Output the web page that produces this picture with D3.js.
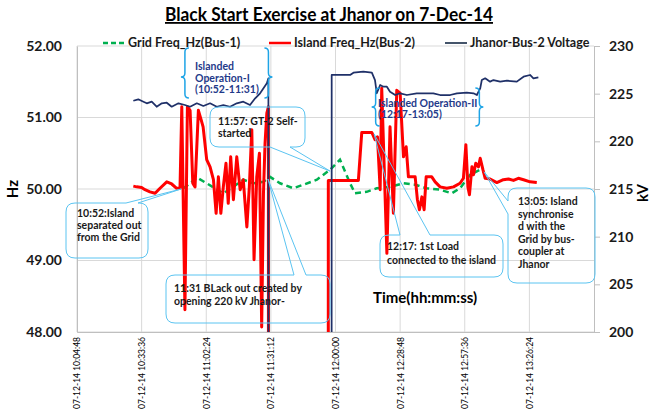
<!DOCTYPE html>
<html>
<head>
<meta charset="utf-8">
<script src="https://cdn.jsdelivr.net/npm/d3@7"></script>
<style>
  body { margin: 0; background: #fff; }
  text { font-family: Lato, "Open Sans", sans-serif; }
</style>
</head>
<body>
<div id="chart"></div>
<script>
// chart values
const chartTitle = "Black Start Exercise at Jhanor on 7-Dec-14";
const seriesNames = ["Grid Freq_Hz(Bus-1)", "Island Freq_Hz(Bus-2)", "Jhanor-Bus-2 Voltage"];
const datePrefix = "07-12-14 ";
const timeTicks = ["10:04:48", "10:33:36", "11:02:24", "11:31:12", "12:00:00", "12:28:48", "12:57:36", "13:26:24"];
const timeRange = ["10:04:48", "13:55:12"];
const hzTicks = [48, 49, 50, 51, 52];
const kvTicks = [200, 205, 210, 215, 220, 225, 230];

const islandFreq = [
  ["10:29:54",50.04],["10:31:24",50.03],["10:33:36",50.02],["10:35:06",49.99],["10:37:18",49.96],["10:39:36",49.94],
  ["10:41:48",50.01],["10:44:48",50.10],["10:47:00",50.07],["10:49:12",50.01],["10:50:42",50.01],
  ["10:51:30",51.15],["10:52:54",48.31],["10:54:00",51.15],["10:55:12",51.10],["10:56:24",50.08],["10:57:24",50.03],
  ["10:58:54",51.10],["11:00:06",50.97],["11:01:00",50.87],["11:02:36",50.41],["11:04:06",50.31],["11:05:36",50.13],
  ["11:06:48",49.66],["11:07:48",50.17],["11:08:54",49.66],["11:10:00",50.03],["11:11:12",50.36],["11:12:12",49.80],
  ["11:13:18",50.45],["11:14:30",49.85],["11:16:00",50.45],["11:17:30",49.99],["11:18:54",50.13],["11:20:30",49.47],
  ["11:21:36",50.03],["11:22:42",50.83],["11:23:42",49.01],["11:24:54",50.17],["11:26:06",50.50],["11:27:06",48.07],
  ["11:27:54",49.94],["11:28:36",50.64],["11:29:24",51.06],["11:30:06",51.15],["11:30:24",0],
  ["11:56:30",0],["11:56:48",50.12],["12:10:12",50.12],["12:11:42",50.79],["12:16:12",50.79],["12:17:36",50.69],
  ["12:18:42",50.73],["12:19:54",49.99],["12:20:36",51.41],["12:22:54",49.10],["12:24:18",50.87],["12:25:48",49.66],
  ["12:27:18",51.38],["12:28:48",51.34],["12:30:18",50.45],["12:31:30",50.59],["12:32:30",50.17],["12:35:30",50.17],
  ["12:36:30",49.85],["12:37:24",49.71],["12:38:30",49.89],["12:39:30",49.71],["12:40:24",50.17],["12:42:54",50.17],
  ["12:44:24",50.10],["12:46:36",50.03],["12:49:36",50.01],["12:52:36",50.03],["12:55:30",50.08],["12:57:00",50.15],
  ["12:58:06",50.62],["12:59:00",50.03],["12:59:42",49.92],["13:00:48",50.31],["13:01:30",50.20],["13:02:30",50.36],
  ["13:03:42",50.31],["13:04:30",50.43],["13:05:42",50.27],["13:06:42",50.15],["13:08:54",50.14],["13:11:54",50.09],
  ["13:14:48",50.13],["13:17:06",50.14],["13:19:18",50.12],["13:21:30",50.15],["13:23:48",50.13],["13:26:42",50.10],
  ["13:29:42",50.09]
];

const gridFreq = [
  ["10:52:12",50.01],["10:55:12",50.08],["10:58:12",50.16],["11:02:36",50.08],["11:06:18",50.01],["11:10:00",49.94],
  ["11:14:30",50.03],["11:18:54",50.13],["11:23:24",50.08],["11:27:54",50.10],["11:30:48",50.17],["11:35:18",50.08],
  ["11:41:12",50.01],["11:45:42",50.06],["11:51:42",50.13],["11:57:36",50.27],["12:02:00",50.41],["12:06:30",50.08],
  ["12:08:42",49.94],["12:13:54",49.96],["12:18:24",50.01],["12:24:18",50.03],["12:30:18",50.08],["12:35:30",50.06],
  ["12:40:42",50.01],["12:46:36",49.99],["12:51:48",49.94],["12:55:30",50.01],["13:00:00",50.20],["13:04:30",50.27],
  ["13:05:54",50.24]
];

const busVoltage = [
  ["10:29:54",224.26],["10:32:06",224.41],["10:34:24",224.16],["10:35:54",223.99],["10:38:06",224.16],["10:40:18",223.63],
  ["10:42:36",223.99],["10:44:48",224.05],["10:47:00",223.63],["10:50:00",223.99],["10:52:54",223.81],["10:55:12",223.63],
  ["10:58:12",223.99],["11:01:06",223.71],["11:04:06",223.99],["11:07:06",223.63],["11:10:00",223.81],["11:13:00",223.63],
  ["11:16:00",223.99],["11:18:54",224.16],["11:21:54",223.81],["11:24:12",224.51],["11:26:24",225.04],["11:27:54",225.56],
  ["11:29:24",226.09],["11:30:06",226.61],["11:30:18",0],
  ["11:58:06",0],["11:58:18",226.96],["12:06:30",226.96],["12:08:00",227.20],["12:12:24",227.30],["12:16:12",227.20],
  ["12:17:36",226.43],["12:18:24",225.04],["12:19:54",225.91],["12:21:18",225.73],["12:22:54",225.73],["12:24:18",225.21],
  ["12:26:36",224.86],["12:28:48",225.04],["12:31:48",224.86],["12:36:12",225.04],["12:40:42",225.04],["12:43:36",225.04],
  ["12:46:36",224.86],["12:51:06",224.86],["12:54:06",225.04],["12:58:30",225.10],["13:01:30",225.04],["13:03:00",224.86],
  ["13:04:30",225.56],["13:05:12",226.43],["13:06:42",226.61],["13:08:54",226.26],["13:10:24",226.43],["13:13:24",226.26],
  ["13:16:24",226.36],["13:20:48",226.26],["13:23:48",226.78],["13:26:42",226.96],["13:28:12",226.61],["13:30:24",226.71]
];

// annotations: text and the point each callout aims at
const calloutLines = [
  ["10:52:Island", "separated out", "from the Grid"],
  ["11:57: GT-2 Self-", "started"],
  ["11:31  BLack out created by", "opening 220 kV Jhanor-"],
  ["12:17: 1st Load", "connected to the island"],
  ["13:05: Island", "synchronise", "d with the", "Grid by bus-", "coupler at", "Jhanor"]
];
const calloutTips = [["10:51:12", 50.00], ["11:57:36", 50.25], ["11:29:54", 50.14], ["12:17:12", 50.77], ["13:06:12", 50.24]];
const braceLabels = [
  { lines: ["Islanded", "Operation-I", "(10:52-11:31)"], from: "10:52:00", to: "11:31:00" },
  { lines: ["Islanded Operation-II", "(12:17-13:05)"], from: "12:17:00", to: "13:05:00" }
];

// layout
const width = 661, height = 410;
const plotLeft = 77, plotRight = 594, plotTop = 46, plotBottom = 332;

const calloutBoxes = [
  { x: 66, y: 203, w: 82, h: 55, side: "top", base: [126, 138], tx: 77, ty: 217, lh: 12.2 },
  { x: 210, y: 107, w: 95, h: 40, side: "bottom", base: [270, 290], tx: 218, ty: 125, lh: 12 },
  { x: 166, y: 275, w: 164, h: 48, side: "top", base: [294, 306], tx: 174, ty: 292, lh: 12.5 },
  { x: 380, y: 235, w: 123, h: 42, side: "top", base: [400, 430], tx: 387, ty: 250, lh: 13.5 },
  { x: 508, y: 188, w: 87, h: 95, side: "left", base: [201, 214], tx: 518, ty: 205, lh: 12.6 }
];
const braceBoxes = [
  { y1: 48, y2: 98, ym: 77, tx: 195, ty: 70, lh: 11.7 },
  { y1: 88, y2: 126, ym: 107, tx: 378, ty: 107, lh: 10.7 }
];

const parseT = s => { const p = s.split(':').map(Number); return p[0] * 60 + p[1] + p[2] / 60; };

const svg = d3.select('#chart').append('svg')
  .attr('width', width).attr('height', height);

const x = d3.scaleLinear().domain(timeRange.map(parseT)).range([plotLeft, plotRight]);
const yHz = d3.scaleLinear().domain([48, 52]).range([plotBottom, plotTop]);
const yKv = d3.scaleLinear().domain([200, 230]).range([plotBottom, plotTop]);

// gridlines
svg.append('g').selectAll('line').data(hzTicks).enter().append('line')
  .attr('x1', plotLeft).attr('x2', plotRight)
  .attr('y1', d => yHz(d)).attr('y2', d => yHz(d))
  .attr('stroke', '#d9d9d9').attr('stroke-width', 1);
svg.append('g').selectAll('line').data(timeTicks).enter().append('line')
  .attr('x1', d => x(parseT(d))).attr('x2', d => x(parseT(d)))
  .attr('y1', plotTop).attr('y2', plotBottom)
  .attr('stroke', '#d9d9d9').attr('stroke-width', 1);

// axes
let axL = svg.append('g').attr('transform', `translate(${plotLeft},0)`)
  .call(d3.axisLeft(yHz).tickValues(hzTicks).tickSize(0).tickPadding(15).tickFormat(d3.format('.2f')));
axL.select('.domain').attr('stroke', '#bfbfbf');
axL.selectAll('text').attr('font-size', 14).attr('font-weight', 'bold').attr('fill', '#1a1a1a')
  .style('font-family', 'Lato');

let axR = svg.append('g').attr('transform', `translate(${plotRight},0)`)
  .call(d3.axisRight(yKv).tickValues(kvTicks).tickSize(6).tickPadding(9).tickSizeOuter(0));
axR.select('.domain').attr('stroke', '#bfbfbf');
axR.selectAll('line').attr('stroke', '#bfbfbf');
axR.selectAll('text').attr('font-size', 14).attr('font-weight', 'bold').attr('fill', '#1a1a1a')
  .style('font-family', 'Lato');

let axB = svg.append('g').attr('transform', `translate(0,${plotBottom})`)
  .call(d3.axisBottom(x).tickValues(timeTicks.map(parseT)).tickSize(0).tickSizeOuter(0)
    .tickFormat((d, i) => datePrefix + timeTicks[i]));
axB.select('.domain').attr('stroke', '#bfbfbf');
axB.selectAll('text')
  .attr('transform', 'rotate(-90)')
  .attr('x', -5).attr('y', 0).attr('dy', '0.35em')
  .style('text-anchor', 'end')
  .attr('font-size', 8.5).attr('fill', '#000').style('font-family', 'Lato');

// axis titles
svg.append('text').attr('transform', 'translate(18,189) rotate(-90)')
  .attr('text-anchor', 'middle').attr('font-size', 15).attr('font-weight', 'bold').text('Hz');
svg.append('text').attr('transform', 'translate(648,193) rotate(-90)')
  .attr('text-anchor', 'middle').attr('font-size', 15).attr('font-weight', 'bold').text('kV');
svg.append('text').attr('x', 373).attr('y', 303)
  .attr('font-size', 15).attr('font-weight', 'bold').text('Time(hh:mm:ss)');

// lines
svg.append('clipPath').attr('id', 'plot').append('rect')
  .attr('x', plotLeft).attr('y', plotTop).attr('width', plotRight - plotLeft).attr('height', plotBottom - plotTop);

const lineHz = d3.line().x(d => x(parseT(d[0]))).y(d => yHz(d[1]));
const lineKv = d3.line().x(d => x(parseT(d[0]))).y(d => yKv(d[1]));
const plot = svg.append('g').attr('clip-path', 'url(#plot)');

plot.append('path').datum(gridFreq).attr('d', lineHz)
  .attr('fill', 'none').attr('stroke', '#00b050').attr('stroke-width', 2.5)
  .attr('stroke-dasharray', '6,4');
plot.append('path').datum(islandFreq).attr('d', lineHz)
  .attr('fill', 'none').attr('stroke', '#ff0000').attr('stroke-width', 3)
  .attr('stroke-linejoin', 'round');
plot.append('path').datum(busVoltage).attr('d', lineKv)
  .attr('fill', 'none').attr('stroke', '#1f3068').attr('stroke-width', 1.75)
  .attr('stroke-linejoin', 'round');

// title
svg.append('text').attr('x', 329).attr('y', 21)
  .attr('text-anchor', 'middle').attr('font-size', 18).attr('font-weight', 'bold')
  .attr('textLength', 328).attr('lengthAdjust', 'spacingAndGlyphs')
  .style('text-decoration', 'underline').text(chartTitle);

// legend
const legendColors = ['#00b050', '#ff0000', '#44546a'];
const legendX = [103, 269, 445];
const lg = svg.append('g');
seriesNames.forEach((name, i) => {
  lg.append('line').attr('x1', legendX[i]).attr('x2', legendX[i] + 22)
    .attr('y1', 43).attr('y2', 43)
    .attr('stroke', legendColors[i]).attr('stroke-width', i === 2 ? 2 : 2.5)
    .attr('stroke-dasharray', i === 0 ? '5,3' : null);
  lg.append('text').attr('x', legendX[i] + 25).attr('y', 47)
    .attr('font-size', 12.5).attr('font-weight', 'bold').attr('fill', '#1a1a1a').text(name);
});

// callouts
function calloutPath(b, tip) {
  const r = 9, x0 = b.x, y0 = b.y, x1 = b.x + b.w, y1 = b.y + b.h;
  const [a, c] = b.base;
  let p = `M${x0 + r},${y0}`;
  if (b.side === 'top') p += `L${a},${y0}L${tip[0]},${tip[1]}L${c},${y0}`;
  p += `L${x1 - r},${y0}Q${x1},${y0} ${x1},${y0 + r}`;
  if (b.side === 'right') p += `L${x1},${a}L${tip[0]},${tip[1]}L${x1},${c}`;
  p += `L${x1},${y1 - r}Q${x1},${y1} ${x1 - r},${y1}`;
  if (b.side === 'bottom') p += `L${c},${y1}L${tip[0]},${tip[1]}L${a},${y1}`;
  p += `L${x0 + r},${y1}Q${x0},${y1} ${x0},${y1 - r}`;
  if (b.side === 'left') p += `L${x0},${c}L${tip[0]},${tip[1]}L${x0},${a}`;
  p += `L${x0},${y0 + r}Q${x0},${y0} ${x0 + r},${y0}Z`;
  return p;
}

const co = svg.append('g');
calloutLines.forEach((lines, i) => {
  const b = calloutBoxes[i];
  const tip = [x(parseT(calloutTips[i][0])), yHz(calloutTips[i][1])];
  co.append('path').attr('d', calloutPath(b, tip))
    .attr('fill', 'none').attr('stroke', '#5bc4f1').attr('stroke-width', 1);
  const t = co.append('text').attr('font-size', 10.5).attr('font-weight', 'bold').attr('fill', '#1a1a1a');
  lines.forEach((ln, j) => {
    t.append('tspan').attr('x', b.tx).attr('y', b.ty + j * b.lh).text(ln);
  });
});

// braces
function bracePath(bx, y1, y2, ym, s) {
  const w = 4;
  return `M${bx + s * w},${y1}Q${bx},${y1} ${bx},${y1 + w}L${bx},${ym - w}` +
    `Q${bx},${ym} ${bx - s * w},${ym}Q${bx},${ym} ${bx},${ym + w}L${bx},${y2 - w}Q${bx},${y2} ${bx + s * w},${y2}`;
}
braceLabels.forEach((bl, i) => {
  const bb = braceBoxes[i];
  const xa = x(parseT(bl.from)) + 2, xb = x(parseT(bl.to)) - 2;
  svg.append('path').attr('d', bracePath(xa, bb.y1, bb.y2, bb.ym, 1))
    .attr('fill', 'none').attr('stroke', '#1ea4e6').attr('stroke-width', 1.5);
  svg.append('path').attr('d', bracePath(xb, bb.y1, bb.y2, bb.ym, -1))
    .attr('fill', 'none').attr('stroke', '#1ea4e6').attr('stroke-width', 1.5);
  const t = svg.append('text').attr('font-size', 10.5).attr('font-weight', 'bold').attr('fill', '#1f3a8a');
  bl.lines.forEach((ln, j) => {
    t.append('tspan').attr('x', bb.tx).attr('y', bb.ty + j * bb.lh).text(ln);
  });
});
</script>
</body>
</html>
